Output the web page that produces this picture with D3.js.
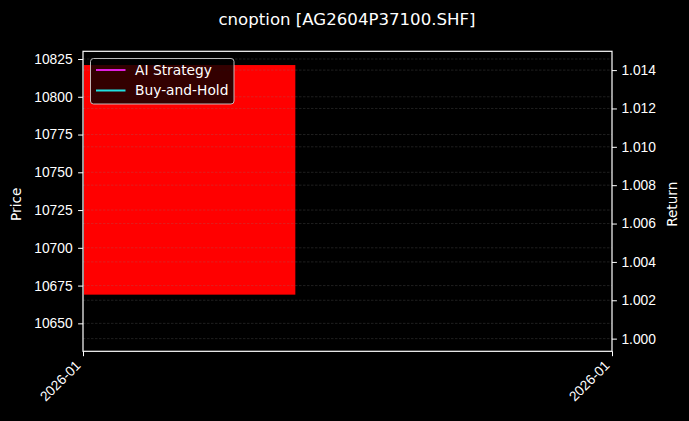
<!DOCTYPE html>
<html>
<head>
<meta charset="utf-8">
<script src="https://cdn.jsdelivr.net/npm/d3@7"></script>
<style>
  body { margin: 0; background: #000; }
  svg { display: block; font-family: "DejaVu Sans", sans-serif; }
</style>
</head>
<body>
<svg width="689" height="421"></svg>
<script>
const svg = d3.select("svg");

// データ
const title = "cnoption [AG2604P37100.SHF]";
const xRange = ["2026-01-05T00:00", "2026-01-06T00:00"];
const candleTimes = [["2026-01-05T00:00", "2026-01-05T09:38"]];
const candleOpen = [10821];
const candleClose = [10669];
const priceLimits = [10631.5, 10830.1];
const priceTicks = [10650, 10675, 10700, 10725, 10750, 10775, 10800, 10825];
const returnLimits = [0.99934, 1.01498];
const returnTicks = [1.000, 1.002, 1.004, 1.006, 1.008, 1.010, 1.012, 1.014];
const returnTimes = ["2026-01-05T00:00"];
const aiReturn = [1.0];
const holdReturn = [1.0];
const seriesNames = ["AI Strategy", "Buy-and-Hold"];
const seriesColors = ["#e020e0", "#20e0e0"];

const parse = d3.isoParse;
const m = { left: 83, right: 612, top: 51.3, bottom: 351.3 };

svg.append("rect").attr("width", 689).attr("height", 421).attr("fill", "#000");

const x = d3.scaleTime().domain(xRange.map(parse)).range([m.left, m.right]);
const yP = d3.scaleLinear().domain(priceLimits).range([m.bottom, m.top]);
const yR = d3.scaleLinear().domain(returnLimits).range([m.bottom, m.top]);

// ローソク足
svg.selectAll("rect.candle")
  .data(candleTimes)
  .enter()
  .append("rect")
  .attr("class", "candle")
  .attr("x", d => x(parse(d[0])) + 1)
  .attr("width", d => x(parse(d[1])) - x(parse(d[0])) - 1)
  .attr("y", (d, i) => yP(Math.max(candleOpen[i], candleClose[i])))
  .attr("height", (d, i) => Math.abs(yP(candleOpen[i]) - yP(candleClose[i])))
  .attr("fill", "#ff0000");

// グリッド
function grid(scale, ticks) {
  svg.append("g").selectAll("line")
    .data(ticks)
    .enter()
    .append("line")
    .attr("x1", m.left).attr("x2", m.right)
    .attr("y1", d => scale(d)).attr("y2", d => scale(d))
    .attr("stroke", "#808080")
    .attr("stroke-opacity", 0.35)
    .attr("stroke-width", 0.7)
    .attr("stroke-dasharray", "2.5,1.5");
}
grid(yP, priceTicks);
grid(yR, returnTicks);

// リターン線
const line = d3.line().x(d => x(parse(d[0]))).y(d => yR(d[1]));
[aiReturn, holdReturn].forEach((vals, k) => {
  svg.append("path")
    .datum(returnTimes.map((t, i) => [t, vals[i]]))
    .attr("d", line)
    .attr("fill", "none")
    .attr("stroke", seriesColors[k])
    .attr("stroke-width", 2);
});

// 軸
function styleAxis(g) {
  g.selectAll(".domain").remove();
  g.selectAll("line").attr("stroke", "#fff");
  g.selectAll("text").attr("fill", "#fff").style("font-size", "13.8px");
}
svg.append("g")
  .attr("transform", `translate(${m.left},0)`)
  .call(d3.axisLeft(yP).tickValues(priceTicks).tickFormat(d3.format("d")).tickSize(4.9).tickPadding(5.5))
  .call(styleAxis);
svg.append("g")
  .attr("transform", `translate(${m.right},0)`)
  .call(d3.axisRight(yR).tickValues(returnTicks).tickFormat(d3.format(".3f")).tickSize(4.9).tickPadding(4.5))
  .call(styleAxis);
const gx = svg.append("g")
  .attr("transform", `translate(0,${m.bottom})`)
  .call(d3.axisBottom(x).tickValues(xRange.map(parse)).tickFormat(d3.timeFormat("%Y-%m")).tickSize(4.9))
  .call(styleAxis);
gx.selectAll("text")
  .attr("text-anchor", "end")
  .attr("x", 0).attr("y", 0).attr("dy", 0)
  .attr("transform", "translate(-2,15) rotate(-45)");

// 枠
svg.append("rect")
  .attr("x", m.left).attr("y", m.top)
  .attr("width", m.right - m.left).attr("height", m.bottom - m.top)
  .attr("fill", "none").attr("stroke", "#fff").attr("stroke-width", 1.2);

// ラベル
svg.append("text")
  .attr("x", 347).attr("y", 25)
  .attr("text-anchor", "middle")
  .attr("fill", "#fff").style("font-size", "16.6px")
  .text(title);
svg.append("text")
  .attr("transform", `translate(21,${(m.top + m.bottom) / 2 + 3}) rotate(-90)`)
  .attr("text-anchor", "middle")
  .attr("fill", "#fff").style("font-size", "13.6px")
  .text("Price");
svg.append("text")
  .attr("transform", `translate(677,${(m.top + m.bottom) / 2 + 3}) rotate(-90)`)
  .attr("text-anchor", "middle")
  .attr("fill", "#fff").style("font-size", "13.6px")
  .text("Return");

// 凡例
const lg = svg.append("g").attr("transform", "translate(90.5,58.5)");
lg.append("rect")
  .attr("width", 143.5).attr("height", 45.5).attr("rx", 3)
  .attr("fill", "#000").attr("fill-opacity", 0.8)
  .attr("stroke", "#cccccc").attr("stroke-opacity", 0.9);
seriesNames.forEach((name, i) => {
  const yy = 11.5 + i * 20.5;
  lg.append("line")
    .attr("x1", 5.5).attr("x2", 35).attr("y1", yy).attr("y2", yy)
    .attr("stroke", seriesColors[i]).attr("stroke-width", 2);
  lg.append("text")
    .attr("x", 44.5).attr("y", yy).attr("dy", "0.35em")
    .attr("fill", "#fff").style("font-size", "13.8px")
    .text(name);
});
</script>
</body>
</html>
